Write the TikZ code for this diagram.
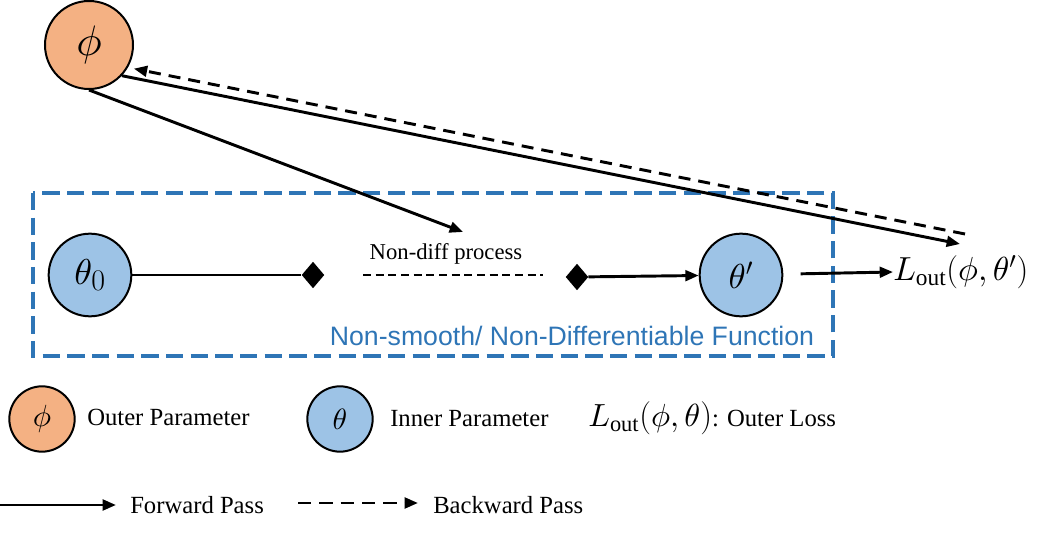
\documentclass[tikz,border=0pt]{standalone}
\usepackage{fontspec}
\setmainfont{Liberation Serif}
\newfontfamily\arialf{Liberation Sans}
\DeclareFontFamily{OML}{cmm}{\skewchar\font'177}
\DeclareFontShape{OML}{cmm}{m}{it}{<->cmmi10}{}
\DeclareFontShape{OML}{cmm}{b}{it}{<->cmmib10}{}
\DeclareFontFamily{OMS}{cmsy}{\skewchar\font'60}
\DeclareFontShape{OMS}{cmsy}{m}{n}{<->cmsy10}{}
\usetikzlibrary{arrows.meta,shapes.geometric}
\definecolor{orangefill}{HTML}{F4B183}
\definecolor{bluefill}{HTML}{9DC3E6}
\definecolor{boxblue}{HTML}{2E75B6}
\newcommand{\bigsub}[1]{\scalebox{1.3}{$\scriptstyle #1$}}
\begin{document}
\begin{tikzpicture}[x=0.75pt,y=-0.75pt,
  param/.style={circle,draw=black,line width=1.5pt,inner sep=0pt},
  outerp/.style={param,fill=orangefill},
  innerp/.style={param,fill=bluefill},
  fwd/.style={line width=2.2pt,-{Triangle[length=10pt,width=8pt]}},
  bwd/.style={line width=2.2pt,dash pattern=on 9pt off 6pt,-{Triangle[length=10pt,width=8pt]}},
  plain/.style={line width=2.2pt},
  dmd/.style={diamond,fill=black,inner sep=0pt,minimum width=17pt,minimum height=20pt},
  lbl/.style={font=\fontsize{18.5}{22}\selectfont,inner sep=0pt,anchor=west},
]
\useasboundingbox (0,0) rectangle (1050,534);
% dashed box
\draw[boxblue,line width=3.4pt,dash pattern=on 13pt off 5.5pt] (33,193) rectangle (833,356);
\node[text=boxblue,font=\arialf\fontsize{20}{24}\selectfont,inner sep=0pt] (boxlbl) at (572,336) {Non-smooth/ Non-Differentiable Function};

% nodes
\node[outerp,minimum size=66pt,font=\fontsize{32}{34}\selectfont] (phi) at (89,45) {$\phi$};
\node[innerp,minimum size=62pt,font=\fontsize{27}{30}\selectfont] (t0) at (90,275) {$\theta_{\bigsub{0}}$};
\node[innerp,minimum size=62pt,font=\fontsize{26}{28}\selectfont] (t1) at (741,275) {$\theta'$};
\node[dmd] (d1) at (313,275) {};
\node[dmd] (d2) at (577,277) {};
\node[font=\fontsize{17}{20}\selectfont,inner sep=0pt] (nd) at (446,254) {Non-diff process};
\node[font=\fontsize{25}{28}\selectfont,inner sep=0pt,anchor=west] (L) at (893,272) {$L_{\mathrm{out}}(\phi,\theta')$};
\coordinate (ndtip) at (463,232);
\coordinate (ndl) at (363,275);
\coordinate (ndr) at (543,275);
\coordinate (lf) at (960,244);
\coordinate (lb) at (965,234);

% connectors
\draw[plain] (t0) -- (d1);
\draw[plain,dash pattern=on 6pt off 3.5pt] (ndl) -- (ndr);
\draw[fwd] (d2) -- (t1);
\draw[fwd,shorten <=13pt] (t1) -- (L.west);
\draw[fwd] (phi.south) -- (ndtip);
\draw[fwd] (phi.-43) -- (lf);
\draw[bwd,shorten >=4.5pt] (lb) -- (phi.-30);

% legend
\node[outerp,minimum size=49pt,font=\fontsize{23}{25}\selectfont] (lphi) at (42,419) {$\phi$};
\node[lbl] (lphit) at (87,417) {Outer Parameter};
\node[innerp,minimum size=49pt,font=\fontsize{22}{24}\selectfont] (lth) at (340,419) {$\theta$};
\node[lbl] (ltht) at (390,419) {Inner Parameter};
\node[lbl] (lL) at (588,418) {{\fontsize{24}{26}\selectfont$L_{\mathrm{out}}(\phi,\theta)$}: Outer Loss};
\coordinate (fa) at (0,505);
\coordinate (fb) at (116,505);
\node[lbl] (ft) at (130,505) {Forward Pass};
\coordinate (ba) at (298,503);
\coordinate (bb) at (418,503);
\node[lbl] (bt) at (433,505) {Backward Pass};
\draw[fwd] (fa) -- (fb);
\draw[bwd,dash pattern=on 10pt off 6pt] (ba) -- (bb);
\end{tikzpicture}
\end{document}
